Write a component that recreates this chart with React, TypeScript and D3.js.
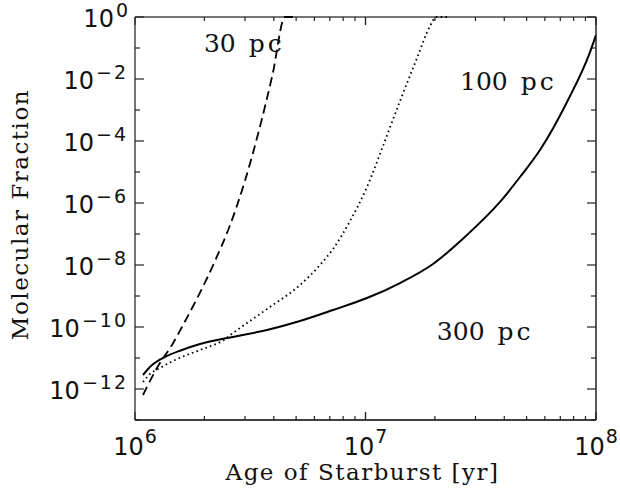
import React, { useRef, useEffect } from 'react';
import * as d3 from 'd3';

// Age of starburst [yr] and molecular fraction
const age30 = [1.083e6, 1.259e6, 1.462e6, 1.599e6, 2.223e6, 2.566e6, 2.988e6, 3.436e6, 3.948e6, 4.476e6, 4.848e6];
const frac30 = [6.4e-13, 5.5e-12, 3.0e-11, 1.0e-10, 1.35e-8, 1.68e-7, 4.75e-6, 1.95e-4, 1.35e-2, 1, 1];

const age100 = [1.083e6, 1.162e6, 1.284e6, 1.491e6, 1.768e6, 2.074e6, 2.385e6, 2.662e6, 3.738e6, 5.197e6,
  6.346e6, 7.228e6, 8.567e6, 1.015e7, 1.191e7, 1.412e7, 1.673e7, 1.905e7, 2.023e7, 2.258e7];
const frac100 = [1.68e-12, 3.05e-12, 4.75e-12, 8.6e-12, 1.45e-11, 2.26e-11, 3.5e-11, 6.4e-11, 3.8e-10, 2.26e-9,
  1.0e-8, 3.28e-8, 2.62e-7, 3.28e-6, 6.9e-5, 1.95e-3, 4.75e-2, 0.51, 1, 1];

const age300 = [1.083e6, 1.185e6, 1.35e6, 1.599e6, 1.914e6, 2.385e6, 3.738e6, 5.197e6, 7.228e6, 1.015e7,
  1.412e7, 1.963e7, 2.756e7, 3.833e7, 4.68e7, 5.715e7, 7.486e7, 9.42e7, 1.0e8];
const frac300 = [2.83e-12, 5.9e-12, 1.08e-11, 1.81e-11, 2.83e-11, 4.1e-11, 8.0e-11, 1.56e-10, 3.53e-10, 8.6e-10,
  2.62e-9, 1.08e-8, 9.3e-8, 1.08e-6, 6.9e-6, 5.1e-5, 1.81e-3, 7.4e-2, 0.26];

const xLabelExps = [6, 7, 8];
const yLabelExps = [0, -2, -4, -6, -8, -10, -12];

const labels = [
  { num: '30', unit: 'pc', age: 1.99e6, frac: 7.4e-2 },
  { num: '100', unit: 'pc', age: 2.57e7, frac: 4.4e-3 },
  { num: '300', unit: 'pc', age: 2.04e7, frac: 3.8e-11 },
];

const W = 620;
const H = 496;
const margin = { top: 17, right: 24, bottom: 76, left: 135 };

export default function App() {
  const svgRef = useRef<SVGSVGElement>(null);

  useEffect(() => {
    if (!svgRef.current) return;
    const svg = d3.select(svgRef.current);
    svg.selectAll('*').remove();

    const x0 = margin.left, x1 = W - margin.right;
    const y0 = H - margin.bottom, y1 = margin.top;

    const x = d3.scaleLog().domain([1e6, 1e8]).range([x0, x1]);
    const y = d3.scaleLog().domain([1e-13, 1]).range([y0, y1]);

    // frame: left/top render grey, bottom/right crisp black like the original
    svg.append('line').attr('x1', x0).attr('x2', x0).attr('y1', y0).attr('y2', y1)
      .attr('stroke', '#777').attr('stroke-width', 2);
    svg.append('line').attr('x1', x0).attr('x2', x1).attr('y1', y1).attr('y2', y1)
      .attr('stroke', '#777').attr('stroke-width', 2);
    svg.append('line').attr('x1', x0).attr('x2', x1).attr('y1', y0).attr('y2', y0)
      .attr('stroke', '#000').attr('stroke-width', 1.3);
    svg.append('line').attr('x1', x1).attr('x2', x1).attr('y1', y0).attr('y2', y1)
      .attr('stroke', '#000').attr('stroke-width', 1.3);

    // y ticks, every decade, longer at the labelled ones
    const ticks = svg.append('g').attr('stroke', '#222').attr('stroke-width', 1.2);
    d3.range(-13, 1).forEach((e) => {
      const len = e % 2 === 0 ? 9 : 5;
      const yy = y(Math.pow(10, e));
      ticks.append('line').attr('x1', x0).attr('x2', x0 + len).attr('y1', yy).attr('y2', yy);
      ticks.append('line').attr('x1', x1).attr('x2', x1 - len).attr('y1', yy).attr('y2', yy);
    });

    // x ticks, decades plus 2..9 minors
    [1e6, 1e7].forEach((d) => {
      d3.range(1, 11).forEach((m) => {
        const v = d * m;
        const len = m === 1 || m === 10 ? 8 : 4;
        const xx = x(v);
        ticks.append('line').attr('x1', xx).attr('x2', xx).attr('y1', y0).attr('y2', y0 - len);
        ticks.append('line').attr('x1', xx).attr('x2', xx).attr('y1', y1).attr('y2', y1 + len);
      });
    });

    const tickFont = 'DejaVu Sans, sans-serif';

    // y tick labels, 10^n
    yLabelExps.forEach((e) => {
      const yy = y(Math.pow(10, e));
      const t = svg.append('text')
        .attr('x', x0 - 7).attr('y', yy + 10)
        .attr('text-anchor', 'end')
        .attr('font-family', tickFont).attr('fill', '#111');
      t.append('tspan').attr('font-size', 24).text('10');
      t.append('tspan').attr('font-size', 19).attr('dx', 2).attr('dy', -10)
        .attr('letter-spacing', e < 0 ? 2 : 0)
        .text(e < 0 ? `\u2212${-e}` : `${e}`);
    });

    // x tick labels
    xLabelExps.forEach((e) => {
      const xx = x(Math.pow(10, e));
      const t = svg.append('text')
        .attr('x', xx).attr('y', y0 + 35)
        .attr('text-anchor', 'middle')
        .attr('font-family', tickFont).attr('fill', '#111');
      t.append('tspan').attr('font-size', 24).text('10');
      t.append('tspan').attr('font-size', 19).attr('dx', 1).attr('dy', -12).text(`${e}`);
    });

    const serif = 'DejaVu Serif, serif';

    svg.append('text')
      .attr('x', (x0 + x1) / 2 - 3).attr('y', 480)
      .attr('text-anchor', 'middle')
      .attr('font-family', serif).attr('font-size', 23)
      .attr('letter-spacing', 1.5).attr('fill', '#111')
      .text('Age of Starburst [yr]');

    svg.append('text')
      .attr('transform', `translate(28,${(y0 + y1) / 2 - 4}) rotate(-90)`)
      .attr('text-anchor', 'middle')
      .attr('font-family', serif).attr('font-size', 23)
      .attr('letter-spacing', 1.5).attr('fill', '#111')
      .text('Molecular Fraction');

    // curves
    svg.append('clipPath').attr('id', 'plot-clip')
      .append('rect').attr('x', x0).attr('y', y1 - 2).attr('width', x1 - x0).attr('height', y0 - y1 + 2);

    const line = d3.line<[number, number]>()
      .x((d) => x(d[0]))
      .y((d) => y(d[1]))
      .curve(d3.curveMonotoneX);

    const series = [
      { ages: age30, fracs: frac30, dash: '9 5', width: 1.8 },
      { ages: age100, fracs: frac100, dash: '1.6 3.2', width: 1.8 },
      { ages: age300, fracs: frac300, dash: null, width: 2 },
    ];

    const g = svg.append('g').attr('clip-path', 'url(#plot-clip)');
    series.forEach((s) => {
      const pts = s.ages.map((a, i) => [a, s.fracs[i]] as [number, number]);
      g.append('path')
        .datum(pts)
        .attr('fill', 'none')
        .attr('stroke', '#000')
        .attr('stroke-width', s.width)
        .attr('stroke-dasharray', s.dash)
        .attr('d', line);
    });

    // curve annotations
    labels.forEach((l) => {
      const t = svg.append('text')
        .attr('x', x(l.age)).attr('y', y(l.frac))
        .attr('font-family', serif).attr('font-size', 25)
        .attr('fill', '#111');
      t.append('tspan').text(l.num);
      t.append('tspan').attr('dx', 13).attr('letter-spacing', 3).text(l.unit);
    });
  }, []);

  return (
    <svg
      ref={svgRef}
      width={W}
      height={H}
      style={{ position: 'absolute', left: 0, top: 0, background: '#fff' }}
    />
  );
}
